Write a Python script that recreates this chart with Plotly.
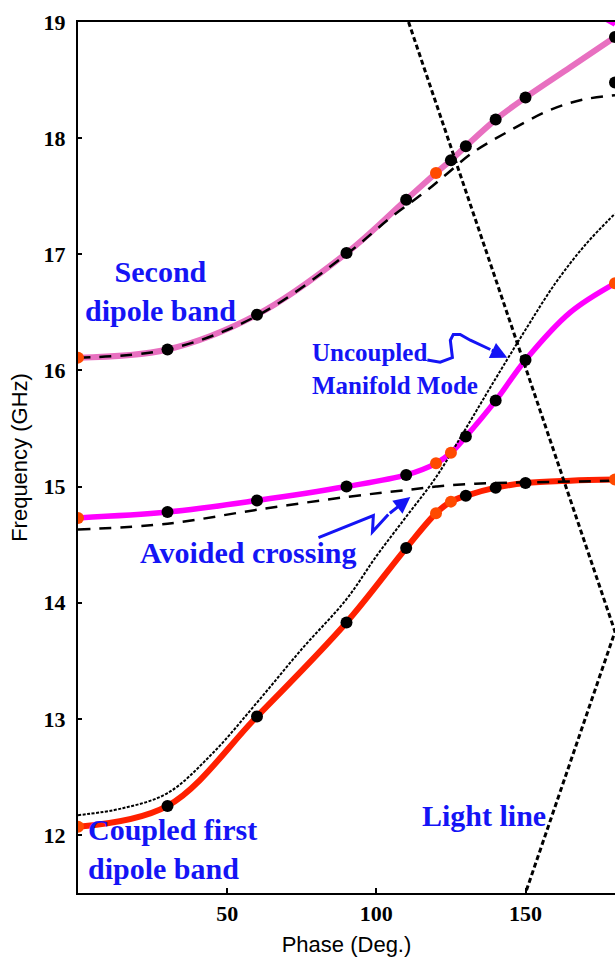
import plotly.graph_objects as go

# ---- dispersion curves (phase in degrees, frequency in GHz) ----
band_phase = [0, 30, 60, 90, 110, 120, 125, 130, 140, 150, 165, 180]

# coupled first dipole band (red)
band1_freq = [12.07, 12.25, 13.02, 13.83, 14.47, 14.77, 14.87, 14.92, 14.99, 15.03, 15.05, 15.06]
# coupled middle band (magenta)
band2_freq = [14.73, 14.78, 14.88, 15.00, 15.10, 15.20, 15.29, 15.43, 15.74, 16.09, 16.50, 16.75]
# second dipole band (pink)
band3_freq = [16.11, 16.18, 16.48, 17.01, 17.47, 17.70, 17.81, 17.93, 18.16, 18.35, 18.61, 18.87]

# uncoupled cell dipole modes (dashed)
dip1_phase = [0, 30, 60, 90, 110, 120, 130, 140, 160, 180]
dip1_freq = [14.63, 14.68, 14.80, 14.91, 14.97, 15.00, 15.02, 15.03, 15.04, 15.05]
dip2_phase = [0, 30, 60, 90, 105, 117, 124, 132, 143, 158, 169, 180]
dip2_freq = [16.11, 16.18, 16.47, 17.00, 17.32, 17.55, 17.70, 17.87, 18.04, 18.24, 18.33, 18.37]

# uncoupled manifold mode
man_phase = [0, 15, 30, 45, 60, 75, 90, 100, 110, 120, 130, 140, 150, 160, 170, 180]
man_freq = [12.17, 12.23, 12.36, 12.70, 13.14, 13.60, 14.03, 14.40, 14.74, 15.08, 15.50,
            15.93, 16.35, 16.75, 17.08, 17.35]

# light line, folded at 180 degrees
light_phase = [110.8, 180, 150]
light_freq = [19.0, 13.75, 11.5]

# simulated points (black)
sim_phase = [30, 60, 90, 110, 130, 140, 150]
sim1_freq = [12.25, 13.02, 13.83, 14.47, 14.92, 14.99, 15.03]
sim2_freq = [14.78, 14.88, 15.00, 15.10, 15.43, 15.74, 16.09]
sim3_phase = [30, 60, 90, 110, 125, 130, 140, 150, 180, 180]
sim3_freq = [16.18, 16.48, 17.01, 17.47, 17.81, 17.93, 18.16, 18.35, 18.48, 18.87]

# reference points (orange)
ref_phase = [0, 120, 125, 180]
ref1_freq = [12.07, 14.77, 14.87, 15.06]
ref2_freq = [14.73, 15.20, 15.29, 16.75]
ref3_phase = [0, 120]
ref3_freq = [16.11, 17.70]

# next band entering the top corner
top_phase = [176.5, 180]
top_freq = [19.03, 18.98]

RED = "#ff2000"
MAGENTA = "#ff00ff"
PINK = "#e870c0"
ORANGE = "#ff4a00"
BLUE = "#1414f5"

fig = go.Figure()

def band(x, y, color, width):
    fig.add_trace(go.Scatter(x=x, y=y, mode="lines", line=dict(color=color, width=width,
                             shape="spline", smoothing=1.0), hoverinfo="skip"))

band(band_phase, band1_freq, RED, 6)
band(band_phase, band2_freq, MAGENTA, 5.5)
band(band_phase, band3_freq, PINK, 6)
band(top_phase, top_freq, MAGENTA, 5)

# manifold mode (thin fine-dotted)
fig.add_trace(go.Scatter(x=man_phase, y=man_freq, mode="lines",
                         line=dict(color="black", width=2, dash="3px,1.5px", shape="spline"),
                         hoverinfo="skip"))
# cell dipole modes (long dashes)
for px_, fy in ((dip1_phase, dip1_freq), (dip2_phase, dip2_freq)):
    fig.add_trace(go.Scatter(x=px_, y=fy, mode="lines",
                             line=dict(color="black", width=2.5, dash="12px,9px", shape="spline"),
                             hoverinfo="skip"))
# light line
fig.add_trace(go.Scatter(x=light_phase, y=light_freq, mode="lines",
                         line=dict(color="black", width=3, dash="5px,3px"), hoverinfo="skip"))

# markers
def pts(x, y, color):
    fig.add_trace(go.Scatter(x=x, y=y, mode="markers",
                             marker=dict(color=color, size=12, line=dict(width=0)),
                             hoverinfo="skip"))

pts(sim_phase, sim1_freq, "black")
pts(sim_phase, sim2_freq, "black")
pts(sim3_phase, sim3_freq, "black")
pts(ref_phase, ref1_freq, ORANGE)
pts(ref_phase, ref2_freq, ORANGE)
pts(ref3_phase, ref3_freq, ORANGE)

# ---- labels ----
lab_font = dict(family="Liberation Serif", size=30, color=BLUE, weight="bold")
small_font = dict(family="Liberation Serif", size=25, color=BLUE, weight="bold")
notes = [
    ("Second<br>dipole band", 27.5, 16.68, "center", lab_font),
    ("Uncoupled<br>Manifold Mode", 77.8, 16.01, "left", small_font),
    ("Avoided crossing", 57.1, 14.43, "center", lab_font),
    ("Coupled first<br>dipole band", 2.6, 11.88, "left", lab_font),
    ("Light line", 136.0, 12.17, "center", lab_font),
]
for text, x, y, anchor, f in notes:
    fig.add_annotation(text=text, x=x, y=y, xref="x", yref="y", showarrow=False,
                       xanchor=anchor, yanchor="middle", align=anchor, font=f)

# hand-drawn pointer arrows
arrow1 = [(117.1, 16.09), (121.4, 16.07), (125.5, 16.11), (124.8, 16.26), (125.8, 16.31),
          (128.1, 16.31), (131.5, 16.26), (138.2, 16.18)]
arrow1_tip = (143.9, 16.11)
arrow2 = [(80.6, 14.56), (99.0, 14.75), (98.7, 14.61), (104.0, 14.76)]
arrow2_tip = (111.4, 14.91)

for body, tip in ((arrow1, arrow1_tip), (arrow2, arrow2_tip)):
    path = "M " + " L ".join(f"{x},{y}" for x, y in body)
    fig.add_shape(type="path", path=path, xref="x", yref="y",
                  line=dict(color=BLUE, width=3))
    fig.add_annotation(x=tip[0], y=tip[1], ax=body[-1][0], ay=body[-1][1],
                       xref="x", yref="y", axref="x", ayref="y", text="",
                       showarrow=True, arrowhead=2, arrowsize=1.1, arrowwidth=3,
                       arrowcolor=BLUE)

tick_font = dict(family="Liberation Serif", size=22, color="black", weight="bold")
title_font = dict(family="Liberation Sans", size=22, color="black")

fig.update_layout(
    width=615, height=957,
    margin=dict(l=78, r=0, t=22, b=64),
    paper_bgcolor="white", plot_bgcolor="white",
    showlegend=False,
    xaxis=dict(range=[0, 180], tickvals=[50, 100, 150], ticks="inside", ticklen=5,
               tickwidth=2, tickcolor="black", showline=True, linecolor="black",
               linewidth=2, mirror=True, showgrid=False, zeroline=False,
               tickfont=tick_font, title=dict(text="Phase (Deg.)", font=title_font, standoff=12)),
    yaxis=dict(range=[11.5, 19], tickvals=[12, 13, 14, 15, 16, 17, 18, 19], ticks="inside",
               ticklen=4, tickwidth=2, tickcolor="black", showline=True, linecolor="black",
               linewidth=2, showgrid=False, zeroline=False, tickfont=tick_font,
               ticklabelstandoff=6,
               title=dict(text="Frequency (GHz)", font=title_font, standoff=10)),
)

fig.write_html("out.html")
